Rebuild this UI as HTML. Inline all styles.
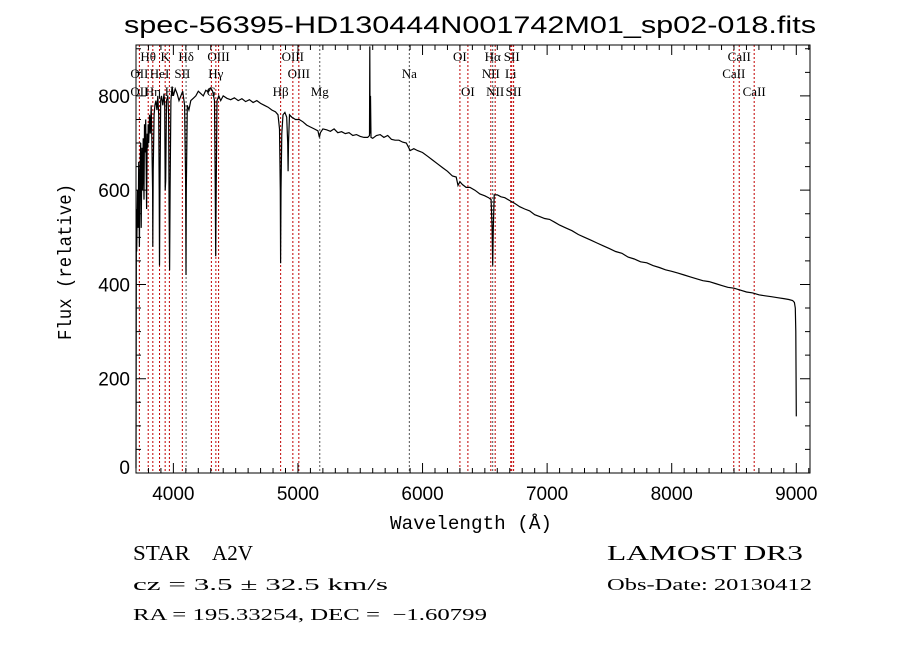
<!DOCTYPE html>
<html><head><meta charset="utf-8"><style>
html,body{margin:0;padding:0;background:#fff;}
svg{display:block;}
text{font-family:"Liberation Serif",serif;fill:#000;}
</style></head><body>
<svg id="chart" width="900" height="649" viewBox="0 0 900 649" xmlns="http://www.w3.org/2000/svg">
<rect width="900" height="649" fill="#fff"/>
<text x="470" y="33" font-size="24" text-anchor="middle" textLength="692" lengthAdjust="spacingAndGlyphs" style="font-family:'Liberation Sans',sans-serif">spec-56395-HD130444N001742M01_sp02-018.fits</text>
<text x="471" y="529" font-size="19" text-anchor="middle" textLength="162" lengthAdjust="spacingAndGlyphs" style="font-family:'Liberation Mono',monospace">Wavelength (Å)</text>
<text transform="translate(71,262) rotate(-90)" font-size="19" text-anchor="middle" textLength="156" lengthAdjust="spacingAndGlyphs" style="font-family:'Liberation Mono',monospace">Flux (relative)</text>
<text x="133" y="560" font-size="21" textLength="57" lengthAdjust="spacingAndGlyphs">STAR</text>
<text x="212" y="560" font-size="21" textLength="41" lengthAdjust="spacingAndGlyphs">A2V</text>
<text x="607" y="560" font-size="21" textLength="196" lengthAdjust="spacingAndGlyphs">LAMOST DR3</text>
<text x="133" y="590" font-size="17" textLength="255" lengthAdjust="spacingAndGlyphs">cz = 3.5 ± 32.5 km/s</text>
<text x="607" y="590" font-size="17" textLength="205" lengthAdjust="spacingAndGlyphs">Obs-Date: 20130412</text>
<text x="133" y="620" font-size="17" textLength="354" lengthAdjust="spacingAndGlyphs">RA = 195.33254, DEC = &#160;−1.60799</text>
<g id="plot"></g>
</svg>
<script>
const waves=[3700,3703,3706,3712,3718,3722,3727,3732,3738,3742,3748,3752,3758,3764,3768,3772,3778,3785,3790,3795,3798,3802,3808,3815,3822,3828,3833,3835,3838,3845,3852,3860,3868,3875,3882,3886,3889,3892,3898,3905,3915,3925,3930,3934,3938,3945,3955,3962,3966,3970,3974,3980,3990,4000,4015,4030,4045,4060,4075,4090,4098,4101,4104,4112,4125,4140,4160,4180,4200,4220,4240,4260,4280,4300,4315,4330,4336,4340,4344,4350,4365,4380,4400,4430,4460,4490,4520,4550,4580,4610,4640,4670,4700,4730,4760,4790,4820,4840,4852,4858,4861,4864,4870,4880,4895,4910,4918,4921,4924,4932,4950,4980,5010,5040,5070,5100,5130,5160,5172,5180,5200,5230,5260,5290,5320,5350,5380,5410,5440,5470,5500,5530,5560,5574,5577,5579,5582,5586,5600,5630,5660,5690,5720,5750,5780,5810,5840,5870,5890,5900,5930,5960,6000,6040,6080,6120,6160,6200,6240,6270,6285,6300,6320,6350,6380,6420,6460,6500,6530,6550,6558,6563,6568,6575,6600,6630,6660,6700,6740,6780,6820,6860,6900,6940,6980,7020,7060,7100,7150,7200,7250,7300,7350,7400,7450,7500,7550,7600,7650,7700,7750,7800,7850,7900,7950,8000,8050,8100,8150,8200,8250,8300,8350,8400,8450,8500,8550,8600,8650,8700,8750,8800,8850,8900,8940,8970,8985,8992,8996,9000];
const flux=[10,560,470,600,520,660,480,640,700,520,690,600,710,580,740,680,750,560,720,690,740,700,760,720,780,700,600,480,640,760,780,790,770,800,760,600,440,580,790,800,780,805,780,600,620,790,800,760,560,430,600,790,820,800,815,805,790,800,810,780,620,420,600,780,770,790,795,800,810,805,800,812,808,817,810,790,620,460,600,790,800,790,800,795,792,796,790,794,788,792,786,790,784,780,776,770,766,760,730,600,445,600,720,760,765,755,700,640,700,760,755,750,750,745,738,734,730,726,712,722,730,728,725,730,722,724,720,722,716,718,714,712,712,716,905,720,800,712,710,716,718,712,716,708,706,706,702,700,690,684,688,684,680,672,664,656,648,640,630,628,610,618,612,606,606,600,592,588,584,580,520,440,520,590,590,586,584,578,572,565,560,556,548,544,540,538,532,526,520,514,506,500,494,488,482,476,470,466,458,454,448,446,440,436,431,428,424,420,416,412,408,406,402,398,394,392,388,384,382,378,376,374,372,370,368,366,362,350,300,120,10];
const lineWaves=[3727,3798,3835,3889,3934,3968,4072,4102,4305,4341,4363,4861,4959,5007,5175,5894,6300,6364,6548,6563,6583,6708,6716,6731,8498,8542,8662];
const lineLabels=[
 ["Hθ",3798,0],["K",3934,0],["Hδ",4102,0],["OIII",4363,0],["OIII",4959,0],["OI",6300,0],["Hα",6563,0],["SII",6716,0],["CaII",8542,0],
 ["OII",3727,1],["HeI",3889,1],["SII",4072,1],["Hγ",4341,1],["OIII",5007,1],["Na",5894,1],["NII",6548,1],["Li",6708,1],["CaII",8498,1],
 ["OII",3727,2],["Hη",3835,2],["H",3968,2],["G",4305,2],["Hβ",4861,2],["Mg",5175,2],["OI",6364,2],["NII",6583,2],["SII",6731,2],["CaII",8662,2]
];
const xTicks=[4000,5000,6000,7000,8000,9000];
const yTicks=[0,200,400,600,800];
const blackLines=[4102,5175,5894,6563];

const L=136,R=810,T=45,B=473,xmin=3700,xmax=9110,ymin=0,ymax=908;
const NS="http://www.w3.org/2000/svg";
const X=w=>L+(w-xmin)/(xmax-xmin)*(R-L);
const Y=f=>B-(f-ymin)/(ymax-ymin)*(B-T);
const g=document.getElementById('plot');
function mk(tag,attrs){const e=document.createElementNS(NS,tag);for(const k in attrs)e.setAttribute(k,attrs[k]);g.appendChild(e);return e;}

lineWaves.forEach(w=>{
 const e=mk('line',{x1:X(w),x2:X(w),y1:T,y2:B,stroke:blackLines.includes(w)?'#555':'#c00000','stroke-width':1,'stroke-dasharray':'2,2'});
 
 
});
lineLabels.forEach(([t,w,r])=>{
 const e=mk('text',{x:X(w),y:[61,78,96][r],'font-size':13,'text-anchor':'middle'});
 e.textContent=t;
 
 
});
const pts=waves.map((w,i)=>X(w).toFixed(1)+','+Y(flux[i]).toFixed(1)).join(' ');
const sp=mk('polyline',{points:pts,fill:'none',stroke:'#000','stroke-width':1.2});



const fr=mk('rect',{x:L,y:T,width:R-L,height:B-T,fill:'none',stroke:'#000','stroke-width':1});


let d='';
for(let w=3700;w<=xmax;w+=100){const len=(w%1000===0)?10:5;const x=X(w);d+=`M${x},${B}v${-len}M${x},${T}v${len}`;}
for(let f=0;f<=ymax;f+=50){const len=(f%200===0)?10:5;const y=Y(f);d+=`M${L},${y}h${len}M${R},${y}h${-len}`;}
const tk=mk('path',{d:d,stroke:'#000','stroke-width':1,fill:'none'});


xTicks.forEach(w=>{
 const e=mk('text',{x:X(w),y:B+27,'font-size':19,'text-anchor':'middle',style:"font-family:'Liberation Sans',sans-serif"});
 e.textContent=w;
 
 
});
yTicks.forEach(f=>{
 const e=mk('text',{x:L-6,y:Y(f)+7-(f===0?6:0),'font-size':19,'text-anchor':'end',style:"font-family:'Liberation Sans',sans-serif"});
 e.textContent=f;
 
 
});
</script>
</body></html>
